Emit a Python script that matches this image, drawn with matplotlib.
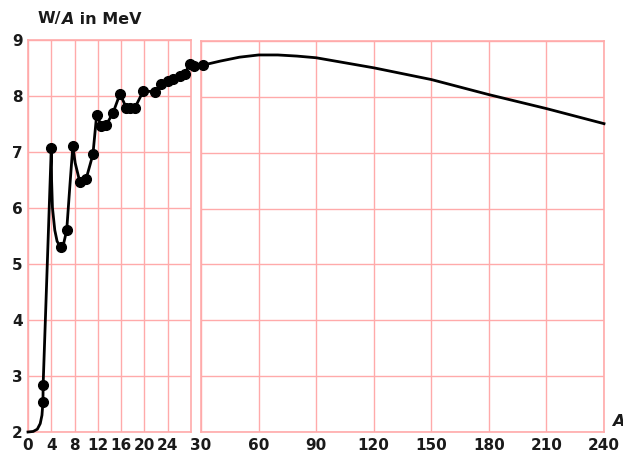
import matplotlib
matplotlib.use("Agg")
import matplotlib.pyplot as plt

# ---- data ----
# left panel (A = 0 .. 28), line nodes
left_line_A = [0, 0.9, 1.6, 2.1, 2.4, 2.57, 2.6, 4.0, 4.05, 4.2, 4.6, 5.0, 5.6, 6.1, 6.65, 7.2, 7.7,
               8.1, 8.9, 10.0, 11.15, 11.8, 12.6, 13.4, 14.6, 15.8, 16.9, 17.6, 18.35, 19.8,
               21.8, 22.9, 24.1, 24.9, 26.1, 26.9, 27.8, 28.6]
left_line_W = [2.0, 2.01, 2.05, 2.15, 2.3, 2.54, 2.84, 7.07, 6.5, 6.0, 5.6, 5.4, 5.3, 5.35, 5.6, 6.4, 7.1,
               6.8, 6.46, 6.52, 6.95, 7.66, 7.46, 7.47, 7.69, 8.03, 7.78, 7.78, 7.78, 8.08,
               8.07, 8.2, 8.26, 8.29, 8.35, 8.38, 8.57, 8.52]
# left panel, marked nuclei
left_pts_A = [2.57, 2.6, 4.0, 5.6, 6.65, 7.7, 8.9, 10.0, 11.15, 11.8, 12.6, 13.4, 14.6, 15.8,
              16.9, 17.6, 18.35, 19.8, 21.8, 22.9, 24.1, 24.9, 26.1, 26.9, 27.8, 28.6]
left_pts_W = [2.54, 2.84, 7.07, 5.3, 5.6, 7.1, 6.46, 6.52, 6.95, 7.66, 7.46, 7.47, 7.69, 8.03,
              7.78, 7.78, 7.78, 8.08, 8.07, 8.2, 8.26, 8.29, 8.35, 8.38, 8.57, 8.52]
# right panel (A = 30 .. 240)
right_line_A = [31.2, 35, 40, 50, 60, 70, 80, 90, 100, 120, 150, 180, 210, 240]
right_line_W = [8.57, 8.6, 8.64, 8.71, 8.75, 8.75, 8.73, 8.70, 8.64, 8.52, 8.31, 8.04, 7.79, 7.52]
right_pts_A = [31.2]
right_pts_W = [8.57]

left_xticks = [0, 4, 8, 12, 16, 20, 24]
right_xticks = [30, 60, 90, 120, 150, 180, 210, 240]
yticks = [2, 3, 4, 5, 6, 7, 8, 9]

W, H = 623, 457
fig = plt.figure(figsize=(W / 100, H / 100), dpi=100)
plt.rcParams['font.family'] = ['DejaVu Sans']

grid_c = '#ffaaaa'
txt_c = '#1a1a1a'

def frame(px_l, px_r, px_t, px_b):
    return [px_l / W, (H - px_b) / H, (px_r - px_l) / W, (px_b - px_t) / H]

axL = fig.add_axes(frame(28, 191, 39.5, 432))
axR = fig.add_axes(frame(201, 604, 41, 432))

for ax in (axL, axR):
    ax.set_ylim(2, 9)
    ax.set_yticks(yticks)
    for s in ax.spines.values():
        s.set_color(grid_c)
        s.set_linewidth(1.2)
    ax.grid(True, color=grid_c, linewidth=1.0)
    ax.tick_params(length=0, labelsize=11, colors=txt_c, pad=4)
    ax.set_axisbelow(True)

axL.set_xlim(0, 28)
axL.set_xticks(left_xticks)
axL.set_xticklabels([str(v) for v in left_xticks], fontweight='bold')
axL.set_yticklabels([str(v) for v in yticks], fontweight='bold')
axR.set_xlim(30, 240)
axR.set_xticks(right_xticks)
axR.set_xticklabels([str(v) for v in right_xticks], fontweight='bold')
axR.set_yticklabels([])

axL.plot(left_line_A, left_line_W, color='black', lw=2.0, clip_on=False, zorder=3)
axL.plot(left_pts_A, left_pts_W, 'o', color='black', ms=7, clip_on=False, zorder=4)
axR.plot(right_line_A, right_line_W, color='black', lw=2.0, clip_on=False, zorder=3)
axR.plot(right_pts_A, right_pts_W, 'o', color='black', ms=7, clip_on=False, zorder=4)

# title built from pieces so the A can be bold italic
renderer = fig.canvas.get_renderer()
x = 38 / W
y = 1 - 19 / H
for piece, st in (('W/', 'normal'), ('A', 'italic'), (' in MeV', 'normal')):
    t = fig.text(x, y, piece, fontsize=11.5, fontweight='bold', style=st,
                 color=txt_c, ha='left', va='center')
    bb = t.get_window_extent(renderer=renderer)
    x = bb.x1 / W

fig.text(612 / W, 1 - 421 / H, 'A', fontsize=11.5, style='italic', fontweight='bold', color=txt_c,
         ha='left', va='center')

fig.savefig('out.png', dpi=100)
